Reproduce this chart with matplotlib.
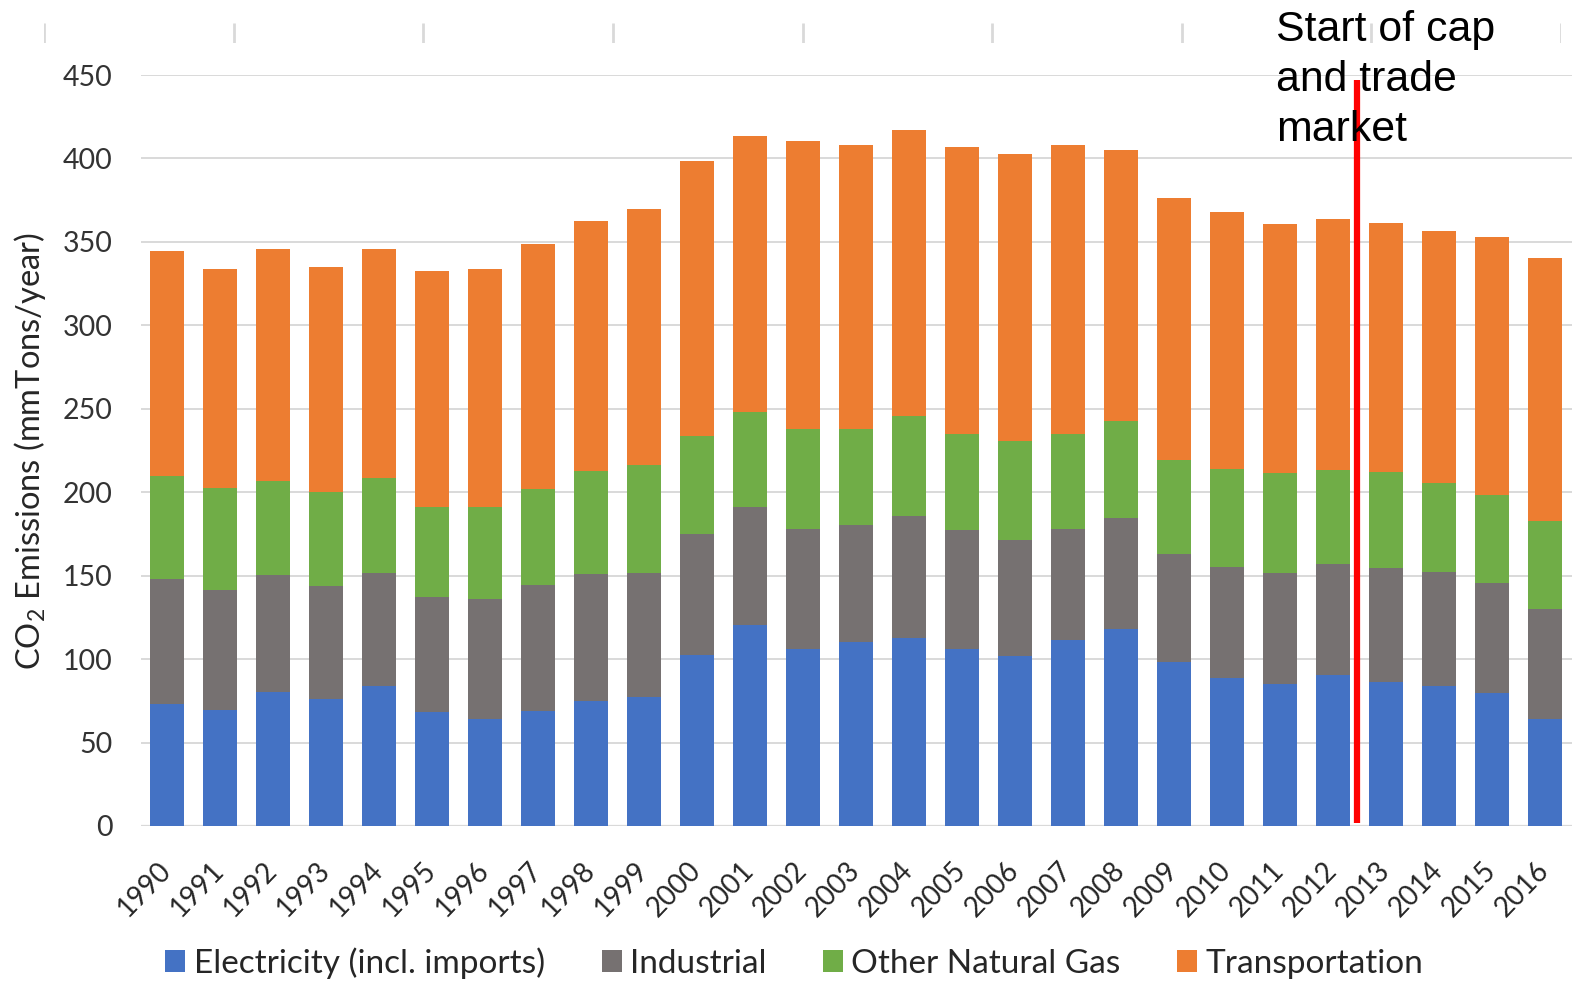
import numpy as np
import matplotlib
matplotlib.use("Agg")
import matplotlib.pyplot as plt

plt.rcParams['font.family'] = ['Lato', 'DejaVu Sans']
plt.rcParams['mathtext.default'] = 'regular'

# --- Data: CO2 emissions by sector (mmTons/year) ---
years = [str(y) for y in range(1990, 2017)]
electricity = [73.3, 69.8, 80.5, 76.3, 83.8, 68.5, 64.3, 69.0, 74.8, 77.5,
               102.7, 120.5, 106.0, 110.4, 112.6, 106.0, 101.9, 111.5, 118.1, 98.4,
               88.8, 85.0, 90.3, 86.3, 83.8, 79.5, 64.3]
industrial = [75.0, 71.8, 69.8, 67.5, 67.5, 68.8, 72.0, 75.4, 75.9, 74.3,
              72.1, 70.5, 72.1, 69.9, 73.2, 71.3, 69.6, 66.6, 66.6, 64.3,
              66.5, 66.3, 66.5, 68.0, 68.5, 66.3, 65.5]
other_gas = [61.5, 60.8, 56.3, 56.3, 57.5, 54.0, 55.0, 57.8, 62.2, 64.4,
             58.9, 57.2, 60.0, 57.8, 59.7, 57.8, 58.9, 57.0, 57.8, 56.5,
             58.9, 60.0, 56.5, 58.0, 53.5, 52.3, 52.8]
transportation = [134.8, 131.2, 139.2, 134.8, 137.0, 141.3, 142.3, 146.3, 149.6, 153.7,
                  164.7, 165.2, 172.3, 170.1, 171.5, 171.7, 172.3, 172.8, 162.4, 157.2,
                  153.5, 149.3, 150.5, 149.3, 150.5, 155.0, 157.5]
cap_trade_pos = 22.45   # between 2012 and 2013
cap_trade_top = 447

series = [
    ("Electricity (incl. imports)", electricity, "#4472C4"),
    ("Industrial", industrial, "#767171"),
    ("Other Natural Gas", other_gas, "#70AD47"),
    ("Transportation", transportation, "#ED7D31"),
]

W, H = 1573, 984
fig = plt.figure(figsize=(W / 100, H / 100), dpi=100)
ax = fig.add_axes([140.5 / W, (H - 826) / H, 1431 / W, 751 / H])

x = np.arange(len(years))
bottom = np.zeros(len(years))
for name, vals, col in series:
    ax.bar(x, vals, 0.65, bottom=bottom, color=col, label=name, zorder=2)
    bottom += np.array(vals)

ax.set_xlim(-0.5, len(years) - 0.5)
ax.set_ylim(0, 450)
ax.set_yticks(np.arange(0, 451, 50))
ax.grid(axis='y', color='#d9d9d9', linewidth=1.4, zorder=0)
ax.set_axisbelow(True)
for s in ax.spines.values():
    s.set_visible(False)
ax.axhline(0, color='#d9d9d9', linewidth=1.6, zorder=1)

ax.tick_params(axis='y', length=0, pad=20, labelsize=20.5, labelcolor='#333333')
ax.tick_params(axis='x', length=0, pad=29, labelsize=20, labelcolor='#262626')
ax.set_xticks(x)
ax.set_xticklabels(years, rotation=46, ha='right', va='center', rotation_mode='anchor')

ax.set_ylabel("CO$_2$ Emissions (mmTons/year)", fontsize=23.5, color='#262626')
ax.yaxis.set_label_coords(-0.0645, 0.5)

# cap and trade marker
ax.vlines(cap_trade_pos, 2, cap_trade_top, color='#FF0000', linewidth=4.5, zorder=5, clip_on=False)
fig.text(1276 / W, 1 - 10 / H, "Start of cap\nand trade\nmarket", family='Liberation Sans',
         fontsize=30.8, color='black', ha='left', va='top', linespacing=1.33, zorder=4)

# light tick marks along the top
deco = fig.add_axes([44 / W, (H - 43) / H, 1517 / W, 20 / H])
deco.set_xlim(0, 8)
deco.set_ylim(0, 1)
deco.vlines(np.arange(9), 0, 1, color='#d9d9d9', linewidth=2)
deco.axis('off')

fig.legend(loc='center', bbox_to_anchor=(0.505, (H - 963) / H), ncol=4, frameon=False,
           fontsize=24, handlelength=0.6, handleheight=0.6, handletextpad=0.25,
           columnspacing=1.7, labelcolor='#262626')

fig.savefig("out.png", dpi=100)
